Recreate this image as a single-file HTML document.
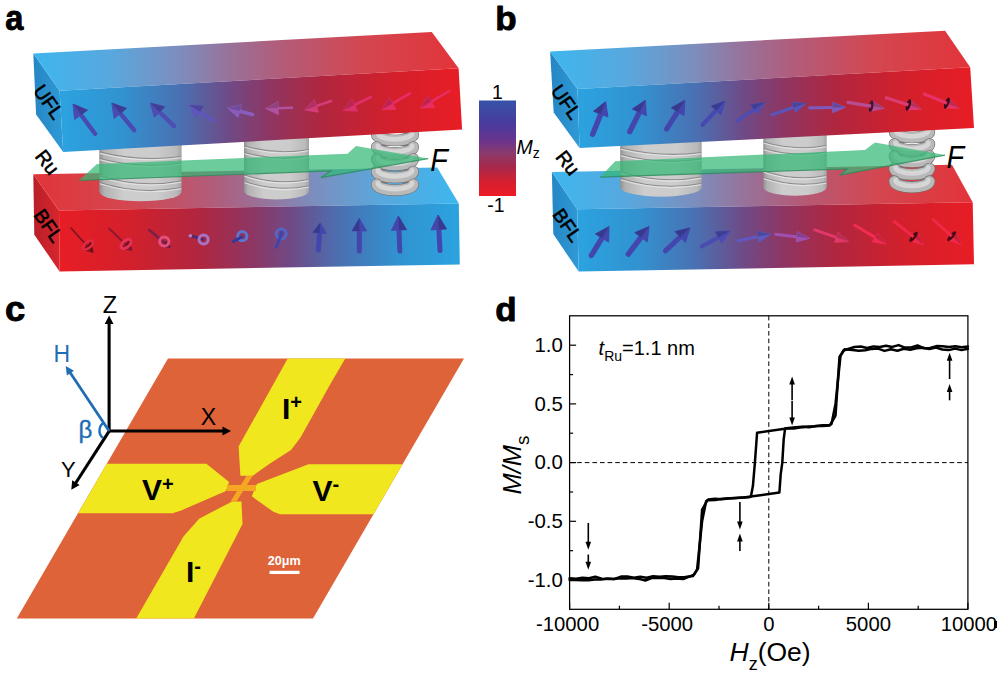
<!DOCTYPE html>
<html lang="en"><head><meta charset="utf-8"><title>Figure</title>
<style>
html,body{margin:0;padding:0;background:#fff;}
body{width:997px;height:679px;overflow:hidden;}
svg{display:block;font-family:"Liberation Sans",sans-serif;}
</style></head>
<body>
<svg width="997" height="679" viewBox="0 0 997 679">
<defs>
<linearGradient id="gfBR" x1="0" y1="0" x2="1" y2="0" gradientUnits="objectBoundingBox"><stop offset="0" stop-color="#2ba3df"/><stop offset="0.15" stop-color="#3193d1"/><stop offset="0.3" stop-color="#4a70b2"/><stop offset="0.42" stop-color="#6f4a86"/><stop offset="0.52" stop-color="#8e3663"/><stop offset="0.65" stop-color="#b0263f"/><stop offset="0.82" stop-color="#d2202c"/><stop offset="1" stop-color="#e81d25"/></linearGradient>
<linearGradient id="gtBR" x1="0" y1="0" x2="1" y2="0" gradientUnits="objectBoundingBox"><stop offset="0" stop-color="#3db6ee"/><stop offset="0.18" stop-color="#58a8de"/><stop offset="0.34" stop-color="#7c8ebe"/><stop offset="0.46" stop-color="#98729a"/><stop offset="0.58" stop-color="#b25c7a"/><stop offset="0.78" stop-color="#d4464f"/><stop offset="1" stop-color="#e2343a"/></linearGradient>
<linearGradient id="gfRB" x1="0" y1="0" x2="1" y2="0" gradientUnits="objectBoundingBox"><stop offset="0" stop-color="#e81d25"/><stop offset="0.18" stop-color="#d2202c"/><stop offset="0.35" stop-color="#b0263f"/><stop offset="0.48" stop-color="#8e3663"/><stop offset="0.58" stop-color="#6f4a86"/><stop offset="0.7" stop-color="#4a70b2"/><stop offset="0.85" stop-color="#3193d1"/><stop offset="1" stop-color="#2ba3df"/></linearGradient>
<linearGradient id="gtRB" x1="0" y1="0" x2="1" y2="0" gradientUnits="objectBoundingBox"><stop offset="0" stop-color="#e2343a"/><stop offset="0.22" stop-color="#d4464f"/><stop offset="0.42" stop-color="#b25c7a"/><stop offset="0.54" stop-color="#98729a"/><stop offset="0.66" stop-color="#7c8ebe"/><stop offset="0.82" stop-color="#58a8de"/><stop offset="1" stop-color="#3db6ee"/></linearGradient>
<linearGradient id="gSideB" x1="0" y1="0" x2="1" y2="0" gradientUnits="objectBoundingBox"><stop offset="0" stop-color="#2586c4"/><stop offset="1" stop-color="#2f9ad6"/></linearGradient>
<linearGradient id="gSideR" x1="0" y1="0" x2="1" y2="0" gradientUnits="objectBoundingBox"><stop offset="0" stop-color="#b81f28"/><stop offset="1" stop-color="#d8262e"/></linearGradient>
<linearGradient id="gCyl" x1="0" y1="0" x2="1" y2="0" gradientUnits="objectBoundingBox"><stop offset="0" stop-color="#8f8f8f"/><stop offset="0.06" stop-color="#b2b2b2"/><stop offset="0.3" stop-color="#cdcdcd"/><stop offset="0.7" stop-color="#cccccc"/><stop offset="0.94" stop-color="#bababa"/><stop offset="1" stop-color="#a2a2a2"/></linearGradient>
<linearGradient id="gBar" x1="0" y1="0" x2="0" y2="1" gradientUnits="objectBoundingBox"><stop offset="0" stop-color="#3553a7"/><stop offset="0.25" stop-color="#4a3a9e"/><stop offset="0.42" stop-color="#6a348c"/><stop offset="0.55" stop-color="#8a3a6c"/><stop offset="0.7" stop-color="#a8284a"/><stop offset="0.85" stop-color="#d42030"/><stop offset="1" stop-color="#ee1c24"/></linearGradient>
</defs>
<rect width="997" height="679" fill="#fff"/>
<polygon points="33.3,174.2 59.0,210.5 59.6,271.4 34.3,234.7" fill="url(#gSideR)"/>
<polygon points="33.3,174.2 437.2,167.4 458.8,203.5 59.0,210.5" fill="url(#gtRB)"/>
<polygon points="59.0,210.5 458.8,203.5 459.8,264.4 59.6,271.4" fill="url(#gfRB)"/>
<path d="M99.3,140.0 L181.6,140.0 L181.6,191.8 A41.1,9.5 0 0 1 99.3,191.8 Z" fill="url(#gCyl)"/>
<path d="M99.8,152.1 Q140.4,162.1 181.1,156.5" fill="none" stroke="#8c8c8c" stroke-width="1.1"/>
<path d="M99.8,153.4 Q140.4,163.4 181.1,157.8" fill="none" stroke="#e6e6e6" stroke-width="1.1" opacity="0.9"/>
<path d="M99.8,158.5 Q140.4,169.2 181.1,163.0" fill="none" stroke="#8c8c8c" stroke-width="1.1"/>
<path d="M99.8,159.8 Q140.4,170.6 181.1,164.3" fill="none" stroke="#e6e6e6" stroke-width="1.1" opacity="0.9"/>
<path d="M99.8,176.0 Q140.4,188.5 181.1,181.0" fill="none" stroke="#8c8c8c" stroke-width="1.1"/>
<path d="M99.8,177.3 Q140.4,189.8 181.1,182.3" fill="none" stroke="#e6e6e6" stroke-width="1.1" opacity="0.9"/>
<path d="M99.8,182.5 Q140.4,195.4 181.1,187.5" fill="none" stroke="#8c8c8c" stroke-width="1.1"/>
<path d="M99.8,183.8 Q140.4,196.7 181.1,188.8" fill="none" stroke="#e6e6e6" stroke-width="1.1" opacity="0.9"/>
<path d="M244.0,136.0 L309.0,136.0 L309.0,190.9 A32.5,8.5 0 0 1 244.0,190.9 Z" fill="url(#gCyl)"/>
<path d="M244.5,146.0 Q276.5,155.2 308.5,149.5" fill="none" stroke="#8c8c8c" stroke-width="1.1"/>
<path d="M244.5,147.3 Q276.5,156.6 308.5,150.8" fill="none" stroke="#e6e6e6" stroke-width="1.1" opacity="0.9"/>
<path d="M244.5,152.5 Q276.5,161.8 308.5,156.0" fill="none" stroke="#8c8c8c" stroke-width="1.1"/>
<path d="M244.5,153.8 Q276.5,163.1 308.5,157.3" fill="none" stroke="#e6e6e6" stroke-width="1.1" opacity="0.9"/>
<path d="M244.5,175.0 Q276.5,185.8 308.5,179.5" fill="none" stroke="#8c8c8c" stroke-width="1.1"/>
<path d="M244.5,176.3 Q276.5,187.1 308.5,180.8" fill="none" stroke="#e6e6e6" stroke-width="1.1" opacity="0.9"/>
<path d="M244.5,181.5 Q276.5,192.2 308.5,186.0" fill="none" stroke="#8c8c8c" stroke-width="1.1"/>
<path d="M244.5,182.8 Q276.5,193.6 308.5,187.3" fill="none" stroke="#e6e6e6" stroke-width="1.1" opacity="0.9"/>
<path d="M376.8,134.5 A18.2,6.0 0 0 1 413.2,134.5" fill="none" stroke="#7c7c7c" stroke-width="8.5"/>
<path d="M376.8,147.0 A18.2,6.0 0 0 1 413.2,147.0" fill="none" stroke="#7c7c7c" stroke-width="8.5"/>
<path d="M376.8,159.0 A18.2,6.0 0 0 1 413.2,159.0" fill="none" stroke="#7c7c7c" stroke-width="8.5"/>
<path d="M376.8,171.5 A18.2,6.0 0 0 1 413.2,171.5" fill="none" stroke="#7c7c7c" stroke-width="8.5"/>
<path d="M376.8,184.3 A18.2,6.0 0 0 1 413.2,184.3" fill="none" stroke="#7c7c7c" stroke-width="8.5"/>
<path d="M376.8,134.5 A18.2,6.0 0 0 0 413.2,134.5" fill="none" stroke="#6e6e6e" stroke-width="11.7" stroke-linecap="round"/>
<path d="M376.8,134.5 A18.2,6.0 0 0 0 413.2,134.5" fill="none" stroke="#b9b9b9" stroke-width="10.5" stroke-linecap="round"/>
<path d="M377.8,133.3 A17.2,6.0 0 0 0 412.2,133.3" fill="none" stroke="#d6d6d6" stroke-width="4.7" stroke-linecap="round"/>
<path d="M376.8,147.0 A18.2,6.0 0 0 0 413.2,147.0" fill="none" stroke="#6e6e6e" stroke-width="11.7" stroke-linecap="round"/>
<path d="M376.8,147.0 A18.2,6.0 0 0 0 413.2,147.0" fill="none" stroke="#b9b9b9" stroke-width="10.5" stroke-linecap="round"/>
<path d="M377.8,145.8 A17.2,6.0 0 0 0 412.2,145.8" fill="none" stroke="#d6d6d6" stroke-width="4.7" stroke-linecap="round"/>
<path d="M376.8,159.0 A18.2,6.0 0 0 0 413.2,159.0" fill="none" stroke="#6e6e6e" stroke-width="11.7" stroke-linecap="round"/>
<path d="M376.8,159.0 A18.2,6.0 0 0 0 413.2,159.0" fill="none" stroke="#b9b9b9" stroke-width="10.5" stroke-linecap="round"/>
<path d="M377.8,157.8 A17.2,6.0 0 0 0 412.2,157.8" fill="none" stroke="#d6d6d6" stroke-width="4.7" stroke-linecap="round"/>
<path d="M376.8,171.5 A18.2,6.0 0 0 0 413.2,171.5" fill="none" stroke="#6e6e6e" stroke-width="11.7" stroke-linecap="round"/>
<path d="M376.8,171.5 A18.2,6.0 0 0 0 413.2,171.5" fill="none" stroke="#b9b9b9" stroke-width="10.5" stroke-linecap="round"/>
<path d="M377.8,170.3 A17.2,6.0 0 0 0 412.2,170.3" fill="none" stroke="#d6d6d6" stroke-width="4.7" stroke-linecap="round"/>
<path d="M376.8,184.3 A18.2,6.0 0 0 0 413.2,184.3" fill="none" stroke="#6e6e6e" stroke-width="11.7" stroke-linecap="round"/>
<path d="M376.8,184.3 A18.2,6.0 0 0 0 413.2,184.3" fill="none" stroke="#b9b9b9" stroke-width="10.5" stroke-linecap="round"/>
<path d="M377.8,183.1 A17.2,6.0 0 0 0 412.2,183.1" fill="none" stroke="#d6d6d6" stroke-width="4.7" stroke-linecap="round"/>
<polygon points="79.0,180.5 97.0,164.0 347.6,153.7 356.0,146.0 428.2,158.6 321.0,177.6 330.7,170.9" fill="#35b876" fill-opacity="0.72"/>
<polyline points="79.0,180.5 330.7,170.9 321.0,177.6 428.2,158.6" fill="none" stroke="#2a8a5a" stroke-width="1.2" stroke-opacity="0.8"/>
<polygon points="33.3,53.5 59.6,90.8 63.2,152.0 36.1,114.4" fill="url(#gSideB)"/>
<polygon points="33.3,53.5 431.8,32.0 458.6,68.2 59.6,90.8" fill="url(#gtBR)"/>
<polygon points="59.6,90.8 458.6,68.2 462.1,129.6 63.2,152.0" fill="url(#gfBR)"/>
<line x1="95.1" y1="133.8" x2="80.4" y2="114.0" stroke="#4a4bb2" stroke-width="4.4" stroke-linecap="round"/>
<polygon points="73.0,104.0 87.5,110.1 74.6,119.6" fill="#4a4bb2" stroke="#4a4bb2" stroke-width="1" stroke-linejoin="round"/>
<polygon points="73.0,104.0 87.5,110.1 81.0,114.8" fill="#3c3d91"/>
<line x1="134.2" y1="130.2" x2="119.7" y2="112.6" stroke="#4a4bb2" stroke-width="4.4" stroke-linecap="round"/>
<polygon points="111.8,103.0 126.6,108.3 114.2,118.5" fill="#4a4bb2" stroke="#4a4bb2" stroke-width="1" stroke-linejoin="round"/>
<polygon points="111.8,103.0 126.6,108.3 120.4,113.4" fill="#3c3d91"/>
<line x1="174.0" y1="126.0" x2="158.9" y2="111.4" stroke="#4d4db4" stroke-width="4.4" stroke-linecap="round"/>
<polygon points="150.3,103.0 164.9,106.7 154.4,117.4" fill="#4d4db4" stroke="#4d4db4" stroke-width="1" stroke-linejoin="round"/>
<polygon points="150.3,103.0 164.9,106.7 159.6,112.1" fill="#3f3f93"/>
<line x1="213.5" y1="120.7" x2="199.0" y2="111.3" stroke="#5f55bd" stroke-width="3.6" stroke-linecap="round"/>
<polygon points="189.4,105.0 203.7,106.0 196.1,117.7" fill="#5f55bd" stroke="#5f55bd" stroke-width="1" stroke-linejoin="round"/>
<polygon points="189.4,105.0 203.7,106.0 199.9,111.8" fill="#4d459a"/>
<line x1="252.6" y1="114.5" x2="238.6" y2="110.9" stroke="#8a5cbd" stroke-width="3.6" stroke-linecap="round"/>
<polygon points="227.5,108.0 241.2,104.8 238.0,117.4" fill="#8a5cbd" stroke="#8a5cbd" stroke-width="1" stroke-linejoin="round"/>
<polygon points="227.5,108.0 241.2,104.8 239.6,111.1" fill="#714b9a"/>
<line x1="292.0" y1="107.7" x2="277.1" y2="108.2" stroke="#b0529e" stroke-width="2.6" stroke-linecap="round"/>
<polygon points="265.6,108.5 277.9,101.6 278.3,114.6" fill="#b0529e" stroke="#b0529e" stroke-width="1" stroke-linejoin="round"/>
<polygon points="265.6,108.5 277.9,101.6 278.1,108.1" fill="#904381"/>
<line x1="331.2" y1="101.0" x2="315.4" y2="106.3" stroke="#d43c78" stroke-width="2.6" stroke-linecap="round"/>
<polygon points="304.5,110.0 314.3,99.8 318.4,112.2" fill="#d43c78" stroke="#d43c78" stroke-width="1" stroke-linejoin="round"/>
<polygon points="304.5,110.0 314.3,99.8 316.3,106.0" fill="#ad3162"/>
<line x1="371.0" y1="97.0" x2="353.5" y2="105.5" stroke="#e0306a" stroke-width="2.6" stroke-linecap="round"/>
<polygon points="343.2,110.5 351.5,99.0 357.4,111.1" fill="#e0306a" stroke="#e0306a" stroke-width="1" stroke-linejoin="round"/>
<polygon points="343.2,110.5 351.5,99.0 354.4,105.0" fill="#b72756"/>
<line x1="410.0" y1="93.4" x2="391.8" y2="103.9" stroke="#e62e66" stroke-width="2.6" stroke-linecap="round"/>
<polygon points="381.8,109.7 389.2,97.6 396.0,109.3" fill="#e62e66" stroke="#e62e66" stroke-width="1" stroke-linejoin="round"/>
<polygon points="381.8,109.7 389.2,97.6 392.6,103.4" fill="#bc2553"/>
<line x1="449.2" y1="91.0" x2="430.4" y2="102.1" stroke="#e62e62" stroke-width="2.6" stroke-linecap="round"/>
<polygon points="420.5,108.0 427.8,95.8 434.7,107.4" fill="#e62e62" stroke="#e62e62" stroke-width="1" stroke-linejoin="round"/>
<polygon points="420.5,108.0 427.8,95.8 431.3,101.6" fill="#bc2550"/>
<line x1="71.0" y1="228.0" x2="87.7" y2="246.6" stroke="#7a1424" stroke-width="1.6" stroke-linecap="round"/>
<polygon points="93.1,252.5 83.0,249.5 91.2,242.1" fill="#7a1424" stroke="#7a1424" stroke-width="1" stroke-linejoin="round"/>
<polygon points="93.1,252.5 91.2,242.1 87.1,245.8" fill="#64101d"/>
<line x1="109.1" y1="228.5" x2="126.1" y2="244.9" stroke="#8a1830" stroke-width="1.8" stroke-linecap="round"/>
<polygon points="131.8,250.5 121.5,248.2 129.2,240.3" fill="#8a1830" stroke="#8a1830" stroke-width="1" stroke-linejoin="round"/>
<polygon points="131.8,250.5 129.2,240.3 125.3,244.2" fill="#711327"/>
<line x1="149.3" y1="230.0" x2="165.7" y2="243.8" stroke="#7a2048" stroke-width="2.6" stroke-linecap="round"/>
<polygon points="170.3,247.7 162.0,246.6 167.8,239.7" fill="#7a2048" stroke="#7a2048" stroke-width="1" stroke-linejoin="round"/>
<polygon points="170.3,247.7 167.8,239.7 164.9,243.2" fill="#641a3b"/>
<ellipse cx="88" cy="245" rx="6" ry="3" fill="none" stroke="#e22a44" stroke-width="2.5" transform="rotate(-40 88 245)"/>
<ellipse cx="126" cy="244" rx="6" ry="3.4" fill="none" stroke="#e63256" stroke-width="2.8" transform="rotate(-40 126 244)"/>
<circle cx="164.3" cy="241.5" r="4.6" fill="none" stroke="#e4507e" stroke-width="3"/>
<line x1="190.4" y1="235.7" x2="203" y2="239.5" stroke="#4a2a70" stroke-width="2.8" stroke-linecap="round"/>
<circle cx="203.6" cy="239.5" r="4.6" fill="none" stroke="#a574c4" stroke-width="3"/>
<circle cx="190.4" cy="235.7" r="1.8" fill="#b080c8"/>
<circle cx="242.3" cy="236.2" r="4.6" fill="none" stroke="#5a78d0" stroke-width="3"/>
<line x1="241.5" y1="237" x2="233.4" y2="241.5" stroke="#2e3aa0" stroke-width="3" stroke-linecap="round"/>
<circle cx="281.2" cy="234" r="5" fill="none" stroke="#5466c4" stroke-width="3"/>
<line x1="282" y1="232" x2="276.3" y2="247.2" stroke="#3c44b0" stroke-width="3" stroke-linecap="round"/>
<line x1="318.4" y1="250.0" x2="319.6" y2="232.0" stroke="#4347ad" stroke-width="5" stroke-linecap="round"/>
<polygon points="320.2,223.0 326.3,233.4 312.8,232.5" fill="#4347ad" stroke="#4347ad" stroke-width="1" stroke-linejoin="round"/>
<polygon points="320.2,223.0 312.8,232.5 319.5,233.0" fill="#363a8d"/>
<line x1="359.3" y1="251.0" x2="359.3" y2="229.9" stroke="#4347ad" stroke-width="5" stroke-linecap="round"/>
<polygon points="359.3,218.4 366.6,230.9 352.1,230.9" fill="#4347ad" stroke="#4347ad" stroke-width="1" stroke-linejoin="round"/>
<polygon points="359.3,218.4 352.1,230.9 359.3,230.9" fill="#363a8d"/>
<line x1="399.8" y1="251.0" x2="398.9" y2="229.0" stroke="#4347ad" stroke-width="5" stroke-linecap="round"/>
<polygon points="398.4,216.0 406.5,229.7 391.5,230.3" fill="#4347ad" stroke="#4347ad" stroke-width="1" stroke-linejoin="round"/>
<polygon points="398.4,216.0 406.5,229.7 399.0,230.0" fill="#363a8d"/>
<line x1="440.0" y1="250.5" x2="438.8" y2="228.5" stroke="#4347ad" stroke-width="5" stroke-linecap="round"/>
<polygon points="438.0,215.0 446.6,229.0 431.1,229.9" fill="#4347ad" stroke="#4347ad" stroke-width="1" stroke-linejoin="round"/>
<polygon points="438.0,215.0 446.6,229.0 438.8,229.5" fill="#363a8d"/>
<g transform="translate(49.0,101.8) rotate(55)">
<text x="0.0" y="7.1" font-size="19.6" text-anchor="middle" font-weight="normal" font-style="normal" fill="#000" stroke="#000" stroke-width="0.55" stroke-linejoin="round">UFL</text>
</g>
<g transform="translate(47.6,162.1) rotate(52)">
<text x="0.0" y="7.1" font-size="19.6" text-anchor="middle" font-weight="normal" font-style="normal" fill="#000" stroke="#000" stroke-width="0.55" stroke-linejoin="round">Ru</text>
</g>
<g transform="translate(48.8,225.5) rotate(55)">
<text x="0.0" y="6.9" font-size="19.2" text-anchor="middle" font-weight="normal" font-style="normal" fill="#000" stroke="#000" stroke-width="0.55" stroke-linejoin="round">BFL</text>
</g>
<text transform="translate(430.3,171.4) scale(0.9,1)" font-size="32" font-style="italic">F</text>
<text transform="translate(5.3,30.4) scale(0.93,1)" font-size="35" font-weight="bold" stroke="#000" stroke-width="0.9" stroke-linejoin="round">a</text>
<rect x="479" y="100.5" width="37" height="95.5" fill="url(#gBar)"/>
<text x="497.5" y="98.8" font-size="19.5" text-anchor="middle" font-weight="normal" font-style="normal" fill="#000" >1</text>
<text x="496.0" y="212.2" font-size="19.5" text-anchor="middle" font-weight="normal" font-style="normal" fill="#000" >-1</text>
<text x="516.5" y="153.7" font-size="19.5" font-style="italic">M<tspan font-style="normal" font-size="14" dy="4.5">z</tspan></text>
<polygon points="551.9,172.0 577.2,209.3 578.7,271.6 553.3,234.1" fill="url(#gSideB)"/>
<polygon points="551.9,172.0 952.0,164.8 972.7,202.2 577.2,209.3" fill="url(#gtBR)"/>
<polygon points="577.2,209.3 972.7,202.2 974.0,264.2 578.7,271.6" fill="url(#gfBR)"/>
<path d="M620.2,138.0 L701.7,138.0 L701.7,187.7 A40.8,9.5 0 0 1 620.2,187.7 Z" fill="url(#gCyl)"/>
<path d="M620.7,148.0 Q661.0,157.8 701.2,152.5" fill="none" stroke="#8c8c8c" stroke-width="1.1"/>
<path d="M620.7,149.3 Q661.0,159.1 701.2,153.8" fill="none" stroke="#e6e6e6" stroke-width="1.1" opacity="0.9"/>
<path d="M620.7,154.5 Q661.0,165.2 701.2,159.0" fill="none" stroke="#8c8c8c" stroke-width="1.1"/>
<path d="M620.7,155.8 Q661.0,166.6 701.2,160.3" fill="none" stroke="#e6e6e6" stroke-width="1.1" opacity="0.9"/>
<path d="M620.7,172.0 Q661.0,184.5 701.2,177.0" fill="none" stroke="#8c8c8c" stroke-width="1.1"/>
<path d="M620.7,173.3 Q661.0,185.8 701.2,178.3" fill="none" stroke="#e6e6e6" stroke-width="1.1" opacity="0.9"/>
<path d="M620.7,178.5 Q661.0,191.0 701.2,183.5" fill="none" stroke="#8c8c8c" stroke-width="1.1"/>
<path d="M620.7,179.8 Q661.0,192.3 701.2,184.8" fill="none" stroke="#e6e6e6" stroke-width="1.1" opacity="0.9"/>
<path d="M763.3,134.0 L826.7,134.0 L826.7,187.2 A31.7,8.5 0 0 1 763.3,187.2 Z" fill="url(#gCyl)"/>
<path d="M763.8,142.0 Q795.0,151.2 826.2,145.5" fill="none" stroke="#8c8c8c" stroke-width="1.1"/>
<path d="M763.8,143.3 Q795.0,152.6 826.2,146.8" fill="none" stroke="#e6e6e6" stroke-width="1.1" opacity="0.9"/>
<path d="M763.8,148.5 Q795.0,157.8 826.2,152.0" fill="none" stroke="#8c8c8c" stroke-width="1.1"/>
<path d="M763.8,149.8 Q795.0,159.1 826.2,153.3" fill="none" stroke="#e6e6e6" stroke-width="1.1" opacity="0.9"/>
<path d="M763.8,171.0 Q795.0,181.8 826.2,175.5" fill="none" stroke="#8c8c8c" stroke-width="1.1"/>
<path d="M763.8,172.3 Q795.0,183.1 826.2,176.8" fill="none" stroke="#e6e6e6" stroke-width="1.1" opacity="0.9"/>
<path d="M763.8,177.5 Q795.0,188.2 826.2,182.0" fill="none" stroke="#8c8c8c" stroke-width="1.1"/>
<path d="M763.8,178.8 Q795.0,189.6 826.2,183.3" fill="none" stroke="#e6e6e6" stroke-width="1.1" opacity="0.9"/>
<path d="M894.5,131.5 A17.4,6.0 0 0 1 929.4,131.5" fill="none" stroke="#7c7c7c" stroke-width="8.5"/>
<path d="M894.5,144.0 A17.4,6.0 0 0 1 929.4,144.0" fill="none" stroke="#7c7c7c" stroke-width="8.5"/>
<path d="M894.5,156.0 A17.4,6.0 0 0 1 929.4,156.0" fill="none" stroke="#7c7c7c" stroke-width="8.5"/>
<path d="M894.5,168.5 A17.4,6.0 0 0 1 929.4,168.5" fill="none" stroke="#7c7c7c" stroke-width="8.5"/>
<path d="M894.5,181.2 A17.4,6.0 0 0 1 929.4,181.2" fill="none" stroke="#7c7c7c" stroke-width="8.5"/>
<path d="M894.5,131.5 A17.4,6.0 0 0 0 929.4,131.5" fill="none" stroke="#6e6e6e" stroke-width="11.7" stroke-linecap="round"/>
<path d="M894.5,131.5 A17.4,6.0 0 0 0 929.4,131.5" fill="none" stroke="#b9b9b9" stroke-width="10.5" stroke-linecap="round"/>
<path d="M895.5,130.3 A16.4,6.0 0 0 0 928.4,130.3" fill="none" stroke="#d6d6d6" stroke-width="4.7" stroke-linecap="round"/>
<path d="M894.5,144.0 A17.4,6.0 0 0 0 929.4,144.0" fill="none" stroke="#6e6e6e" stroke-width="11.7" stroke-linecap="round"/>
<path d="M894.5,144.0 A17.4,6.0 0 0 0 929.4,144.0" fill="none" stroke="#b9b9b9" stroke-width="10.5" stroke-linecap="round"/>
<path d="M895.5,142.8 A16.4,6.0 0 0 0 928.4,142.8" fill="none" stroke="#d6d6d6" stroke-width="4.7" stroke-linecap="round"/>
<path d="M894.5,156.0 A17.4,6.0 0 0 0 929.4,156.0" fill="none" stroke="#6e6e6e" stroke-width="11.7" stroke-linecap="round"/>
<path d="M894.5,156.0 A17.4,6.0 0 0 0 929.4,156.0" fill="none" stroke="#b9b9b9" stroke-width="10.5" stroke-linecap="round"/>
<path d="M895.5,154.8 A16.4,6.0 0 0 0 928.4,154.8" fill="none" stroke="#d6d6d6" stroke-width="4.7" stroke-linecap="round"/>
<path d="M894.5,168.5 A17.4,6.0 0 0 0 929.4,168.5" fill="none" stroke="#6e6e6e" stroke-width="11.7" stroke-linecap="round"/>
<path d="M894.5,168.5 A17.4,6.0 0 0 0 929.4,168.5" fill="none" stroke="#b9b9b9" stroke-width="10.5" stroke-linecap="round"/>
<path d="M895.5,167.3 A16.4,6.0 0 0 0 928.4,167.3" fill="none" stroke="#d6d6d6" stroke-width="4.7" stroke-linecap="round"/>
<path d="M894.5,181.2 A17.4,6.0 0 0 0 929.4,181.2" fill="none" stroke="#6e6e6e" stroke-width="11.7" stroke-linecap="round"/>
<path d="M894.5,181.2 A17.4,6.0 0 0 0 929.4,181.2" fill="none" stroke="#b9b9b9" stroke-width="10.5" stroke-linecap="round"/>
<path d="M895.5,180.0 A16.4,6.0 0 0 0 928.4,180.0" fill="none" stroke="#d6d6d6" stroke-width="4.7" stroke-linecap="round"/>
<polygon points="600.2,177.1 615.2,161.3 864.9,150.0 874.9,142.5 945.1,155.1 839.8,175.1 847.3,168.9" fill="#35b876" fill-opacity="0.72"/>
<polyline points="600.2,177.1 847.3,168.9 839.8,175.1 945.1,155.1" fill="none" stroke="#2a8a5a" stroke-width="1.2" stroke-opacity="0.8"/>
<polygon points="550.1,51.4 577.5,89.0 579.6,148.1 553.7,112.6" fill="url(#gSideB)"/>
<polygon points="550.1,51.4 945.1,30.8 970.2,67.2 577.5,89.0" fill="url(#gtBR)"/>
<polygon points="577.5,89.0 970.2,67.2 974.0,127.9 579.6,148.1" fill="url(#gfBR)"/>
<line x1="592.7" y1="134.2" x2="601.1" y2="113.2" stroke="#4347ad" stroke-width="5.4" stroke-linecap="round"/>
<polygon points="605.7,101.6 607.9,117.0 593.5,111.3" fill="#4347ad" stroke="#4347ad" stroke-width="1" stroke-linejoin="round"/>
<polygon points="605.7,101.6 593.5,111.3 600.7,114.1" fill="#363a8d"/>
<line x1="629.8" y1="131.6" x2="639.8" y2="111.5" stroke="#4347ad" stroke-width="5.4" stroke-linecap="round"/>
<polygon points="645.3,100.3 646.3,115.8 632.4,109.0" fill="#4347ad" stroke="#4347ad" stroke-width="1" stroke-linejoin="round"/>
<polygon points="645.3,100.3 632.4,109.0 639.3,112.4" fill="#363a8d"/>
<line x1="666.6" y1="129.1" x2="678.2" y2="110.9" stroke="#4347ad" stroke-width="5.2" stroke-linecap="round"/>
<polygon points="684.9,100.3 684.0,115.7 671.3,107.7" fill="#4347ad" stroke="#4347ad" stroke-width="1" stroke-linejoin="round"/>
<polygon points="684.9,100.3 671.3,107.7 677.7,111.7" fill="#363a8d"/>
<line x1="702.5" y1="124.9" x2="716.8" y2="109.7" stroke="#4549b0" stroke-width="4.2" stroke-linecap="round"/>
<polygon points="725.0,101.0 720.8,114.9 711.4,106.0" fill="#4549b0" stroke="#4549b0" stroke-width="1" stroke-linejoin="round"/>
<polygon points="725.0,101.0 711.4,106.0 716.1,110.5" fill="#383b90"/>
<line x1="736.8" y1="121.1" x2="754.9" y2="109.0" stroke="#4d4db4" stroke-width="3.4" stroke-linecap="round"/>
<polygon points="764.9,102.3 757.3,114.3 750.9,104.7" fill="#4d4db4" stroke="#4d4db4" stroke-width="1" stroke-linejoin="round"/>
<polygon points="764.9,102.3 750.9,104.7 754.1,109.5" fill="#3f3f93"/>
<line x1="772.0" y1="114.8" x2="794.6" y2="107.1" stroke="#5a54ba" stroke-width="3.2" stroke-linecap="round"/>
<polygon points="806.0,103.3 795.4,112.4 792.0,102.5" fill="#5a54ba" stroke="#5a54ba" stroke-width="1" stroke-linejoin="round"/>
<polygon points="806.0,103.3 792.0,102.5 793.7,107.5" fill="#494498"/>
<line x1="809.7" y1="107.8" x2="833.5" y2="107.5" stroke="#8058b8" stroke-width="3.2" stroke-linecap="round"/>
<polygon points="845.5,107.3 832.6,112.7 832.4,102.2" fill="#8058b8" stroke="#8058b8" stroke-width="1" stroke-linejoin="round"/>
<polygon points="845.5,107.3 832.4,102.2 832.5,107.5" fill="#684896"/>
<line x1="848.0" y1="102.3" x2="872.1" y2="106.3" stroke="#b84c92" stroke-width="3.2" stroke-linecap="round"/>
<polygon points="884.4,108.3 870.2,111.3 871.9,100.9" fill="#b84c92" stroke="#b84c92" stroke-width="1" stroke-linejoin="round"/>
<polygon points="884.4,108.3 871.9,100.9 871.1,106.1" fill="#963e77"/>
<ellipse cx="871.1" cy="106.1" rx="2.2" ry="6.0" fill="#4a1030" transform="rotate(9.4 871.1 106.1)"/>
<line x1="868.1" y1="105.6" x2="871.1" y2="106.1" stroke="#b84c92" stroke-width="3.2"/>
<line x1="886.2" y1="97.8" x2="909.4" y2="105.3" stroke="#dc3c74" stroke-width="3.2" stroke-linecap="round"/>
<polygon points="921.3,109.1 906.8,110.0 910.1,100.0" fill="#dc3c74" stroke="#dc3c74" stroke-width="1" stroke-linejoin="round"/>
<polygon points="921.3,109.1 910.1,100.0 908.4,105.0" fill="#b4315f"/>
<ellipse cx="908.4" cy="105.0" rx="2.2" ry="6.0" fill="#3a0a1c" transform="rotate(17.8 908.4 105.0)"/>
<line x1="905.6" y1="104.0" x2="908.4" y2="105.0" stroke="#dc3c74" stroke-width="3.2"/>
<line x1="924.3" y1="94.0" x2="947.8" y2="103.6" stroke="#e63264" stroke-width="3.2" stroke-linecap="round"/>
<polygon points="959.4,108.3 944.9,108.1 948.9,98.3" fill="#e63264" stroke="#e63264" stroke-width="1" stroke-linejoin="round"/>
<polygon points="959.4,108.3 948.9,98.3 946.9,103.2" fill="#bc2952"/>
<ellipse cx="946.9" cy="103.2" rx="2.2" ry="6.0" fill="#3a0a1c" transform="rotate(22.2 946.9 103.2)"/>
<line x1="944.1" y1="102.1" x2="946.9" y2="103.2" stroke="#e63264" stroke-width="3.2"/>
<line x1="591.4" y1="255.4" x2="602.5" y2="237.2" stroke="#4347ad" stroke-width="5.4" stroke-linecap="round"/>
<polygon points="609.0,226.5 608.6,242.1 595.4,234.0" fill="#4347ad" stroke="#4347ad" stroke-width="1" stroke-linejoin="round"/>
<polygon points="609.0,226.5 595.4,234.0 602.0,238.0" fill="#363a8d"/>
<line x1="628.3" y1="254.1" x2="641.6" y2="236.5" stroke="#4347ad" stroke-width="5.4" stroke-linecap="round"/>
<polygon points="649.1,226.5 647.2,241.9 634.8,232.6" fill="#4347ad" stroke="#4347ad" stroke-width="1" stroke-linejoin="round"/>
<polygon points="649.1,226.5 634.8,232.6 641.0,237.3" fill="#363a8d"/>
<line x1="665.4" y1="250.9" x2="680.9" y2="236.4" stroke="#4347ad" stroke-width="5.0" stroke-linecap="round"/>
<polygon points="690.0,227.8 685.3,242.5 675.0,231.6" fill="#4347ad" stroke="#4347ad" stroke-width="1" stroke-linejoin="round"/>
<polygon points="690.0,227.8 675.0,231.6 680.2,237.0" fill="#363a8d"/>
<line x1="701.7" y1="246.6" x2="719.3" y2="236.9" stroke="#4a4cb2" stroke-width="4.0" stroke-linecap="round"/>
<polygon points="729.8,231.1 721.6,243.1 715.3,231.7" fill="#4a4cb2" stroke="#4a4cb2" stroke-width="1" stroke-linejoin="round"/>
<polygon points="729.8,231.1 715.3,231.7 718.4,237.4" fill="#3c3e91"/>
<line x1="738.1" y1="240.8" x2="758.9" y2="236.5" stroke="#6058c0" stroke-width="3.2" stroke-linecap="round"/>
<polygon points="770.7,234.1 759.1,242.1 756.9,231.3" fill="#6058c0" stroke="#6058c0" stroke-width="1" stroke-linejoin="round"/>
<polygon points="770.7,234.1 756.9,231.3 758.0,236.7" fill="#4e489d"/>
<line x1="775.7" y1="234.3" x2="797.8" y2="236.9" stroke="#a050b0" stroke-width="3.0" stroke-linecap="round"/>
<polygon points="809.7,238.3 796.2,242.0 797.4,231.6" fill="#a050b0" stroke="#a050b0" stroke-width="1" stroke-linejoin="round"/>
<polygon points="809.7,238.3 797.4,231.6 796.8,236.8" fill="#834190"/>
<line x1="814.7" y1="229.8" x2="837.3" y2="237.7" stroke="#e03868" stroke-width="3.0" stroke-linecap="round"/>
<polygon points="848.6,241.6 834.6,242.3 838.0,232.4" fill="#e03868" stroke="#e03868" stroke-width="1" stroke-linejoin="round"/>
<polygon points="848.6,241.6 838.0,232.4 836.3,237.3" fill="#b72d55"/>
<line x1="854.8" y1="225.3" x2="875.9" y2="237.9" stroke="#f02c50" stroke-width="3.0" stroke-linecap="round"/>
<polygon points="886.2,244.1 872.3,241.9 877.7,232.9" fill="#f02c50" stroke="#f02c50" stroke-width="1" stroke-linejoin="round"/>
<polygon points="886.2,244.1 877.7,232.9 875.0,237.4" fill="#c42441"/>
<line x1="894.2" y1="221.5" x2="914.4" y2="237.4" stroke="#f02848" stroke-width="3.0" stroke-linecap="round"/>
<polygon points="923.8,244.8 910.2,241.1 917.0,232.4" fill="#f02848" stroke="#f02848" stroke-width="1" stroke-linejoin="round"/>
<polygon points="923.8,244.8 917.0,232.4 913.6,236.8" fill="#c4203b"/>
<ellipse cx="913.6" cy="236.8" rx="2.2" ry="6.3" fill="#4a0a14" transform="rotate(38.2 913.6 236.8)"/>
<line x1="911.2" y1="234.9" x2="913.6" y2="236.8" stroke="#f02848" stroke-width="3.0"/>
<line x1="933.1" y1="219.5" x2="952.5" y2="236.8" stroke="#f02848" stroke-width="3.0" stroke-linecap="round"/>
<polygon points="961.4,244.8 948.0,240.2 955.4,232.0" fill="#f02848" stroke="#f02848" stroke-width="1" stroke-linejoin="round"/>
<polygon points="961.4,244.8 955.4,232.0 951.7,236.1" fill="#c4203b"/>
<ellipse cx="951.7" cy="236.1" rx="2.2" ry="6.3" fill="#4a0a14" transform="rotate(41.8 951.7 236.1)"/>
<line x1="949.5" y1="234.1" x2="951.7" y2="236.1" stroke="#f02848" stroke-width="3.0"/>
<g transform="translate(566.5,101.8) rotate(55)">
<text x="0.0" y="7.1" font-size="19.6" text-anchor="middle" font-weight="normal" font-style="normal" fill="#000" stroke="#000" stroke-width="0.55" stroke-linejoin="round">UFL</text>
</g>
<g transform="translate(568.0,162.7) rotate(52)">
<text x="0.0" y="7.1" font-size="19.6" text-anchor="middle" font-weight="normal" font-style="normal" fill="#000" stroke="#000" stroke-width="0.55" stroke-linejoin="round">Ru</text>
</g>
<g transform="translate(567.6,225.0) rotate(55)">
<text x="0.0" y="6.9" font-size="19.2" text-anchor="middle" font-weight="normal" font-style="normal" fill="#000" stroke="#000" stroke-width="0.55" stroke-linejoin="round">BFL</text>
</g>
<text transform="translate(946.6,168) scale(0.9,1)" font-size="32" font-style="italic">F</text>
<text transform="translate(495.3,30.4) scale(1.0,0.975)" font-size="35" font-weight="bold" stroke="#000" stroke-width="0.9" stroke-linejoin="round">b</text>
<polygon points="168.0,358.5 464.0,358.5 313.0,618.4 16.8,618.4" fill="#de6339"/>
<polygon points="287.7,358.5 345.3,358.5 331.5,382.0 300.5,437.5 291.0,450.0 270.0,463.5 252.8,475.7 240.4,475.7 238.6,446.5" fill="#f1e71f"/>
<polygon points="106.8,463.8 206.4,463.8 229.1,481.9 226.0,491.1 180.6,510.7 172.4,513.3 78.1,513.3" fill="#f1e71f"/>
<polygon points="402.5,464.3 308.5,464.3 256.9,483.9 251.8,496.3 273.4,511.8 280.0,514.3 373.5,514.3" fill="#f1e71f"/>
<polygon points="232.2,501.4 241.4,501.4 242.5,524.0 193.9,618.4 136.2,618.4 183.5,536.5 199.1,518.7" fill="#f1e71f"/>
<polygon points="227,485 256,485 256,491 227,491" fill="#f6a722"/>
<polygon points="246.5,476 252.5,476 236.5,501.5 230.5,501.5" fill="#f6a722"/>
<text x="282" y="418.5" font-size="30" font-weight="bold">I<tspan font-size="20" dy="-9.5">+</tspan></text>
<text x="312.5" y="500.5" font-size="30" font-weight="bold">V<tspan font-size="20" dy="-9.5">-</tspan></text>
<text x="142" y="500.3" font-size="30" font-weight="bold">V<tspan font-size="20" dy="-9.5">+</tspan></text>
<text x="186" y="582" font-size="30" font-weight="bold">I<tspan font-size="20" dy="-9.5">-</tspan></text>
<text x="284.2" y="565.4" font-size="12.6" text-anchor="middle" font-weight="bold" font-style="normal" fill="#fff" >20μm</text>
<rect x="269.5" y="570.8" width="30" height="3.2" fill="#fff"/>
<line x1="109.1" y1="431.0" x2="109.1" y2="323.1" stroke="#000" stroke-width="3.1"/>
<polygon points="109.1,315.6 113.5,324.1 104.7,324.1" fill="#000"/>
<line x1="107.6" y1="431.0" x2="223.5" y2="431.0" stroke="#000" stroke-width="3.1"/>
<polygon points="231.0,431.0 222.5,435.4 222.5,426.6" fill="#000"/>
<line x1="109.8" y1="430.2" x2="75.4" y2="483.5" stroke="#000" stroke-width="3.1"/>
<polygon points="71.3,489.8 72.2,480.3 79.6,485.0" fill="#000"/>
<line x1="109.1" y1="431.0" x2="69.9" y2="372.2" stroke="#1f6eb4" stroke-width="2.8"/>
<polygon points="65.7,366.0 74.0,370.7 66.9,375.4" fill="#1f6eb4"/>
<text x="110.0" y="312.8" font-size="23.5" text-anchor="middle" font-weight="normal" font-style="normal" fill="#000" >Z</text>
<text x="208.5" y="425.0" font-size="23" text-anchor="middle" font-weight="normal" font-style="normal" fill="#000" >X</text>
<text x="68.4" y="477.4" font-size="22" text-anchor="middle" font-weight="normal" font-style="normal" fill="#000" >Y</text>
<text x="61.7" y="361.5" font-size="23" text-anchor="middle" font-weight="normal" font-style="normal" fill="#1f6eb4" >H</text>
<text x="85.3" y="438.3" font-size="24" text-anchor="middle" font-weight="normal" font-style="normal" fill="#1f6eb4" stroke="#1f6eb4" stroke-width="0.4">β</text>
<path d="M104,422.5 A9.5,9.5 0 0 0 103,438" fill="none" stroke="#1f6eb4" stroke-width="2.4"/>
<text transform="translate(4.9,320.6) scale(1.04,1)" font-size="35" font-weight="bold" stroke="#000" stroke-width="0.9" stroke-linejoin="round">c</text>
<rect x="569.6" y="315.8" width="398.3" height="293.5" fill="#fff" stroke="#000" stroke-width="1.25"/>
<line x1="569.6" y1="462.6" x2="967.9" y2="462.6" stroke="#000" stroke-width="1" stroke-dasharray="4.6,3"/>
<line x1="768.8" y1="315.8" x2="768.8" y2="609.3" stroke="#000" stroke-width="1" stroke-dasharray="4.6,3"/>
<line x1="569.6" y1="345.2" x2="576.1" y2="345.2" stroke="#000" stroke-width="1.2"/>
<text x="562.8" y="351.8" font-size="20.4" text-anchor="end" font-weight="normal" font-style="normal" fill="#000" >1.0</text>
<line x1="569.6" y1="403.9" x2="576.1" y2="403.9" stroke="#000" stroke-width="1.2"/>
<text x="562.8" y="410.5" font-size="20.4" text-anchor="end" font-weight="normal" font-style="normal" fill="#000" >0.5</text>
<line x1="569.6" y1="462.6" x2="576.1" y2="462.6" stroke="#000" stroke-width="1.2"/>
<text x="562.8" y="469.2" font-size="20.4" text-anchor="end" font-weight="normal" font-style="normal" fill="#000" >0.0</text>
<line x1="569.6" y1="521.3" x2="576.1" y2="521.3" stroke="#000" stroke-width="1.2"/>
<text x="562.8" y="527.9" font-size="20.4" text-anchor="end" font-weight="normal" font-style="normal" fill="#000" >-0.5</text>
<line x1="569.6" y1="580.0" x2="576.1" y2="580.0" stroke="#000" stroke-width="1.2"/>
<text x="562.8" y="586.6" font-size="20.4" text-anchor="end" font-weight="normal" font-style="normal" fill="#000" >-1.0</text>
<line x1="569.6" y1="374.6" x2="573.1" y2="374.6" stroke="#000" stroke-width="1.2"/>
<line x1="569.6" y1="433.2" x2="573.1" y2="433.2" stroke="#000" stroke-width="1.2"/>
<line x1="569.6" y1="492.0" x2="573.1" y2="492.0" stroke="#000" stroke-width="1.2"/>
<line x1="569.6" y1="550.7" x2="573.1" y2="550.7" stroke="#000" stroke-width="1.2"/>
<line x1="569.6" y1="609.3" x2="569.6" y2="602.8" stroke="#000" stroke-width="1.2"/>
<text x="567.6" y="630.6" font-size="20.3" text-anchor="middle" font-weight="normal" font-style="normal" fill="#000" >-10000</text>
<line x1="669.2" y1="609.3" x2="669.2" y2="602.8" stroke="#000" stroke-width="1.2"/>
<text x="667.2" y="630.6" font-size="20.3" text-anchor="middle" font-weight="normal" font-style="normal" fill="#000" >-5000</text>
<line x1="768.8" y1="609.3" x2="768.8" y2="602.8" stroke="#000" stroke-width="1.2"/>
<text x="768.8" y="630.6" font-size="20.3" text-anchor="middle" font-weight="normal" font-style="normal" fill="#000" >0</text>
<line x1="868.4" y1="609.3" x2="868.4" y2="602.8" stroke="#000" stroke-width="1.2"/>
<text x="868.4" y="630.6" font-size="20.3" text-anchor="middle" font-weight="normal" font-style="normal" fill="#000" >5000</text>
<line x1="967.9" y1="609.3" x2="967.9" y2="602.8" stroke="#000" stroke-width="1.2"/>
<text x="968.9" y="630.6" font-size="20.3" text-anchor="middle" font-weight="normal" font-style="normal" fill="#000" >10000</text>
<line x1="619.4" y1="609.3" x2="619.4" y2="605.8" stroke="#000" stroke-width="1.2"/>
<line x1="719.0" y1="609.3" x2="719.0" y2="605.8" stroke="#000" stroke-width="1.2"/>
<line x1="818.6" y1="609.3" x2="818.6" y2="605.8" stroke="#000" stroke-width="1.2"/>
<line x1="918.2" y1="609.3" x2="918.2" y2="605.8" stroke="#000" stroke-width="1.2"/>
<polyline points="967.9,346.4 961.6,347.3 955.3,346.3 949.0,346.9 942.7,346.2 936.4,346.1 930.1,348.0 923.8,348.2 917.5,345.5 911.2,347.5 904.9,347.6 898.6,345.1 892.3,346.9 886.0,345.7 879.7,346.9 873.4,346.4 867.0,348.0 860.7,346.5 854.4,347.0 843.5,350.5 839.5,356.9 835.5,415.6 830.5,424.4 829.5,425.0 822.4,425.3 815.3,426.2 808.1,426.6 801.0,427.2 793.9,428.4 786.7,428.6 757.1,432.7 754.9,462.6 752.9,486.1 750.9,496.6 748.9,497.2 742.1,497.4 735.3,497.9 728.5,498.6 721.7,499.2 714.9,498.8 708.1,499.6 706.1,501.3 702.1,521.3 697.1,569.4 693.1,575.9 685.2,577.1 678.7,577.2 672.3,576.6 665.9,576.2 659.5,576.7 653.1,576.2 646.7,577.8 640.2,576.7 633.8,577.7 627.4,576.4 621.0,576.6 614.6,578.9 608.2,578.9 601.7,578.7 595.3,576.7 588.9,578.2 582.5,577.8 576.1,578.7 569.6,578.2" fill="none" stroke="#000" stroke-width="2.5" stroke-linejoin="round" stroke-linecap="round"/>
<polyline points="569.6,580.0 576.0,579.9 582.3,580.3 588.6,580.3 594.9,579.5 601.2,579.5 607.5,578.4 613.8,579.0 620.1,578.2 626.4,578.4 632.7,577.9 639.0,578.9 645.3,580.5 651.6,578.1 657.9,577.7 664.2,577.9 670.6,578.9 676.9,578.4 683.2,579.1 694.1,574.7 698.1,568.3 702.1,509.6 707.1,500.8 708.1,500.2 715.2,499.9 722.3,498.7 729.5,498.3 736.6,498.0 743.7,497.6 750.9,496.6 779.4,492.5 780.7,474.3 782.3,462.6 783.7,439.1 785.1,428.6 788.7,428.0 795.5,427.2 802.3,426.7 809.1,427.2 815.9,426.1 822.7,426.1 829.5,425.6 831.5,423.9 835.5,403.9 840.5,355.8 844.5,349.3 852.4,349.9 858.9,350.8 865.3,350.3 871.7,348.9 878.1,348.6 884.5,350.9 890.9,349.2 897.4,350.7 903.8,348.8 910.2,349.8 916.6,348.2 923.0,347.8 929.4,349.1 935.9,347.6 942.3,349.5 948.7,350.1 955.1,348.6 961.5,350.1 967.9,348.7" fill="none" stroke="#000" stroke-width="2.5" stroke-linejoin="round" stroke-linecap="round"/>
<line x1="588.3" y1="523" x2="588.3" y2="542.7" stroke="#000" stroke-width="1.6"/>
<polygon points="588.3,549.7 585.5,541.7 591.1,541.7" fill="#000"/>
<line x1="588.3" y1="554.5" x2="588.3" y2="562.7" stroke="#000" stroke-width="1.6"/>
<polygon points="588.3,569.7 585.5,561.7 591.1,561.7" fill="#000"/>
<line x1="739.9" y1="502" x2="739.9" y2="522.4" stroke="#000" stroke-width="1.6"/>
<polygon points="739.9,529.4 737.1,521.4 742.7,521.4" fill="#000"/>
<line x1="739.9" y1="551" x2="739.9" y2="540.5" stroke="#000" stroke-width="1.6"/>
<polygon points="739.9,533.5 737.1,541.5 742.7,541.5" fill="#000"/>
<line x1="792.1" y1="400.3" x2="792.1" y2="383.5" stroke="#000" stroke-width="1.6"/>
<polygon points="792.1,376.5 789.3,384.5 794.9,384.5" fill="#000"/>
<line x1="792.1" y1="401" x2="792.1" y2="418.4" stroke="#000" stroke-width="1.6"/>
<polygon points="792.1,425.4 789.3,417.4 794.9,417.4" fill="#000"/>
<line x1="949.6" y1="379" x2="949.6" y2="359.7" stroke="#000" stroke-width="1.6"/>
<polygon points="949.6,352.7 946.8,360.7 952.4,360.7" fill="#000"/>
<line x1="949.6" y1="400.3" x2="949.6" y2="391" stroke="#000" stroke-width="1.6"/>
<polygon points="949.6,384.0 946.8,392.0 952.4,392.0" fill="#000"/>
<text x="598.6" y="355.3" font-size="20"><tspan font-style="italic">t</tspan><tspan font-size="14" dy="5.5">Ru</tspan><tspan dy="-5.5">=1.1 nm</tspan></text>
<g transform="translate(520.7,494.6) rotate(-90)"><text x="0" y="0" font-size="25.5" font-style="italic">M/M<tspan font-style="normal" font-size="19" dy="8">s</tspan></text></g>
<text x="729.5" y="661.2" font-size="26.5"><tspan font-style="italic">H</tspan><tspan font-size="18" dy="8.5">z</tspan><tspan dy="-8.5">(Oe)</tspan></text>
<text transform="translate(495.2,320.7) scale(1.0,0.975)" font-size="35" font-weight="bold" stroke="#000" stroke-width="0.9" stroke-linejoin="round">d</text>
<rect x="994" y="621" width="3" height="7" fill="#000"/>
</svg>
</body></html>
